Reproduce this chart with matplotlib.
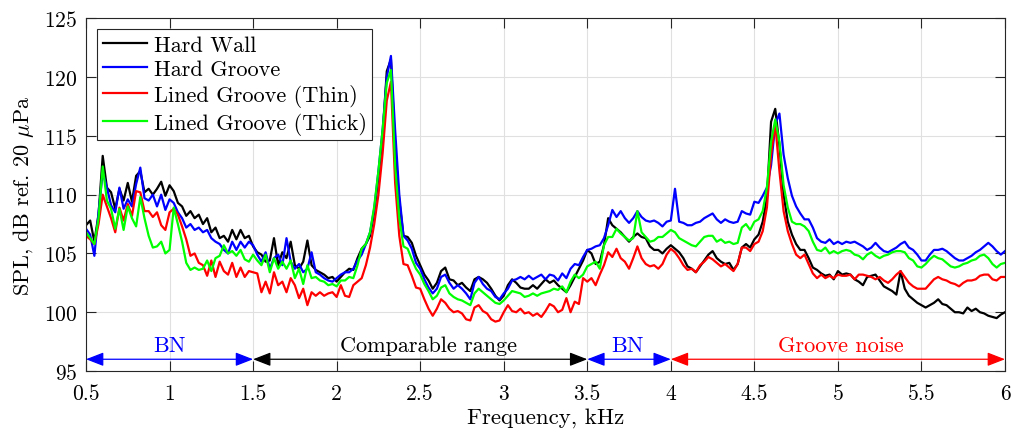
import numpy as np
import matplotlib
matplotlib.use("Agg")
import matplotlib.pyplot as plt

plt.rcParams["font.family"] = ["cmr10", "DejaVu Serif"]
plt.rcParams["mathtext.fontset"] = "cm"
plt.rcParams["axes.formatter.use_mathtext"] = True

# frequency grid, kHz (0.5 ... 6.0 in 0.025 steps)
freq = np.round(np.arange(0.5, 6.0001, 0.025), 3)

# SPL, dB ref. 20 uPa
hard_wall = [
    107.4, 107.8, 106.0, 108.3, 113.3, 110.6, 110.2, 108.8, 110.5, 109.5,
    111.0, 109.4, 111.6, 112.0, 110.2, 110.5, 110.0, 110.5, 111.1, 109.9,
    110.8, 110.3, 109.3, 109.0, 108.2, 108.6, 108.0, 108.3, 107.5, 108.0,
    106.8, 107.2, 106.3, 106.5, 106.0, 107.0, 106.2, 107.0, 106.3, 106.5,
    105.6, 105.1, 104.9, 104.3, 104.4, 106.3, 104.0, 105.1, 104.6, 106.0,
    104.0, 103.7, 104.3, 106.1, 104.0, 103.6, 103.4, 103.2, 102.9, 103.0,
    102.6, 103.0, 103.4, 103.7, 103.6, 104.6, 105.4, 105.8, 106.5, 108.5,
    111.5, 115.0, 120.5, 121.5, 114.0, 109.5, 106.5, 106.4, 105.9, 104.8,
    104.0, 103.2, 102.7, 102.0, 102.5, 103.5, 103.8, 102.8, 102.7, 102.3,
    102.5, 102.1, 101.8, 102.8, 103.0, 102.8, 102.5, 102.0, 101.4, 101.0,
    101.4, 102.3, 102.8, 102.5, 102.1, 102.0, 102.0, 102.3, 102.0, 102.4,
    102.8, 102.5, 102.7, 102.3, 102.0, 101.7, 102.3, 103.0, 103.7, 104.4,
    105.3, 105.0, 104.1, 104.3, 105.7, 108.0, 107.4, 107.1, 106.8, 106.4,
    106.0, 106.4, 106.7, 106.4, 106.3, 105.6, 105.3, 105.3, 105.0, 105.4,
    105.7, 105.4, 105.1, 104.6, 103.9, 103.7, 103.4, 103.9, 104.4, 104.9,
    105.2, 104.6, 104.3, 104.1, 104.2, 103.6, 104.1, 105.5, 105.8, 105.5,
    106.2, 106.6, 107.7, 109.7, 116.2, 117.3, 114.2, 110.0, 107.7, 106.6,
    105.8, 105.3, 105.3, 104.6, 103.8, 103.6, 103.3, 103.1, 103.2, 102.8,
    103.5, 103.2, 103.3, 103.2, 102.8, 102.6, 102.3, 103.0, 103.1, 103.2,
    102.7, 102.2, 102.0, 101.8, 101.5, 103.5, 102.0, 101.4, 101.1, 100.8,
    100.6, 100.4, 100.6, 100.8, 101.1, 100.7, 100.6, 100.3, 100.0, 100.0,
    99.9, 100.4, 100.1, 100.3, 100.0, 99.9, 99.7, 99.6, 99.5, 99.8,
    100.0]

hard_groove = [
    107.1, 106.6, 104.8, 108.5, 111.9, 110.6, 109.1, 108.5, 110.6, 108.8,
    109.6, 109.0, 110.9, 112.3, 109.7, 109.5, 110.0, 109.0, 110.0, 108.7,
    109.6, 109.3, 108.5, 108.0, 107.2, 107.5, 107.0, 107.2, 106.8, 107.0,
    106.3, 106.0, 105.8, 105.3, 105.0, 106.0, 105.3, 106.0, 105.5, 106.0,
    105.7, 104.9, 104.3, 105.1, 103.7, 104.6, 104.9, 104.0, 106.3, 104.3,
    103.7, 104.1, 103.4, 103.7, 105.1, 103.4, 103.2, 102.9, 102.7, 102.6,
    102.9, 103.2, 103.4, 103.4, 103.7, 104.4, 104.9, 105.8, 106.8, 108.8,
    112.0, 115.5, 120.0, 121.8, 115.5, 110.0, 106.5, 106.1, 105.4, 104.2,
    103.7, 102.8, 102.1, 101.6, 102.0, 103.0, 103.2, 102.5, 102.0, 102.3,
    102.0, 101.6, 101.1, 102.5, 103.0, 102.4, 102.0, 101.8, 101.3, 101.1,
    101.6, 102.0, 102.7, 102.8, 103.0, 102.8, 103.1, 102.8, 103.0, 103.2,
    102.8, 103.2, 103.1, 102.7, 103.3, 102.9, 103.7, 104.1, 104.0, 104.7,
    105.3, 105.4, 105.6, 105.7, 106.3, 107.4, 108.7, 108.1, 108.6, 108.0,
    107.6, 108.0, 108.6, 108.1, 107.8, 107.7, 107.8, 107.6, 107.3, 107.7,
    107.8, 110.5, 107.7, 107.6, 107.4, 107.4, 107.6, 107.7, 108.0, 108.2,
    108.4, 107.9, 107.6, 107.9, 107.7, 107.6, 107.7, 108.6, 108.4, 108.3,
    109.4, 109.3, 109.9, 110.6, 112.5, 116.0, 116.9, 113.4, 111.4, 109.9,
    109.0, 108.4, 107.9, 107.9, 107.2, 106.3, 106.0, 105.9, 106.2, 105.8,
    106.0, 105.8, 106.0, 105.9, 106.0, 105.8, 105.6, 105.3, 105.5, 105.9,
    105.5, 105.2, 105.1, 105.3, 105.5, 105.8, 106.0, 105.5, 105.3, 104.9,
    104.4, 104.4, 104.9, 105.3, 105.3, 105.4, 105.2, 104.9, 104.6, 104.4,
    104.4, 104.6, 104.8, 105.1, 105.3, 105.6, 105.9, 105.6, 105.2, 104.9,
    105.2]

lined_thin = [
    106.5, 106.2, 105.8, 107.5, 110.0, 109.0, 108.0, 106.8, 108.9, 107.8,
    109.2, 108.2, 110.3, 110.2, 108.6, 108.6, 108.1, 108.5, 107.4, 107.0,
    108.5, 108.8, 108.3, 107.3, 106.2, 104.8, 105.0, 104.2, 104.0, 103.1,
    104.4, 103.0, 104.3, 103.5, 103.2, 104.2, 103.0, 103.8, 103.0, 103.5,
    103.4, 103.3, 101.7, 102.6, 101.6, 103.4, 102.3, 102.6, 101.7, 102.9,
    102.3, 101.2, 102.0, 100.6, 101.7, 101.4, 101.7, 101.4, 101.6, 101.7,
    101.3, 102.3, 101.4, 101.3, 102.3, 102.6, 102.9, 104.0, 105.5, 107.5,
    110.0, 113.5, 118.0, 119.6, 111.0, 106.5, 104.1, 104.0, 103.1, 102.1,
    102.0, 101.1, 100.3, 99.7, 100.3, 101.1, 100.8, 100.3, 100.0, 100.1,
    99.9, 99.4, 99.3, 100.4, 100.6, 100.1, 99.9, 99.4, 99.2, 99.3,
    100.0, 100.6, 100.1, 100.0, 100.3, 99.9, 100.0, 99.7, 99.9, 99.6,
    100.1, 100.7, 100.5, 100.0, 100.2, 101.2, 100.0, 100.9, 100.7, 102.9,
    102.6, 102.9, 102.3, 103.2, 104.0, 105.1, 104.7, 105.4, 104.6, 104.3,
    103.7, 104.6, 105.6, 104.6, 104.1, 103.9, 104.0, 103.7, 104.1, 104.9,
    105.4, 105.1, 104.6, 104.0, 103.6, 103.7, 103.4, 104.0, 104.3, 104.7,
    104.5, 104.2, 103.9, 104.1, 103.8, 103.5, 104.1, 105.5, 105.5, 105.2,
    105.8, 106.0, 106.9, 108.9, 113.4, 116.0, 112.0, 108.6, 106.9, 105.8,
    104.9, 104.6, 104.9, 104.1, 103.3, 102.9, 103.2, 102.9, 103.1, 102.9,
    103.2, 103.1, 103.1, 103.2, 102.8, 103.2, 103.2, 103.1, 103.0, 102.8,
    103.0, 102.7, 102.5, 102.8, 103.2, 103.5, 103.0, 102.5, 102.2, 102.0,
    102.0, 102.0, 102.4, 102.8, 103.0, 102.8, 102.7, 102.5, 102.4, 102.2,
    102.5, 102.7, 102.7, 102.8, 103.1, 103.2, 103.2, 102.8, 102.7, 103.0,
    103.0]

lined_thick = [
    106.8, 106.3, 105.8, 108.0, 112.4, 109.5, 108.8, 107.1, 108.8, 107.0,
    109.0, 108.0, 107.3, 109.8, 108.0, 106.5, 105.5, 105.6, 106.0, 105.0,
    105.3, 108.9, 107.5, 106.0, 104.2, 103.6, 103.8, 103.6, 103.7, 104.4,
    103.5, 104.6, 104.8, 105.7, 105.0, 105.2, 104.8, 105.3, 104.5, 104.3,
    104.9, 104.4, 104.0, 104.9, 103.4, 104.6, 103.7, 104.3, 103.7, 104.4,
    102.9, 103.7, 102.4, 104.0, 102.9, 103.0, 102.7, 102.6, 102.3, 102.4,
    102.2, 102.7, 102.7, 103.0, 102.9, 104.0, 105.4, 105.8, 106.8, 109.0,
    112.0, 115.5, 119.5, 120.6, 112.5, 108.0, 105.6, 105.4, 104.5, 103.7,
    103.2, 102.4, 101.8, 101.1, 101.4, 102.1, 102.3, 101.6, 101.3, 101.1,
    101.0, 100.8, 100.6, 101.6, 102.0, 101.7, 101.4, 101.1, 100.8, 100.7,
    101.0, 101.4, 101.8, 101.7, 101.6, 101.3, 101.4, 101.6, 101.4, 101.6,
    101.7, 101.8, 102.0, 101.9, 102.2, 101.7, 102.6, 103.2, 102.9, 103.2,
    103.9, 104.1, 104.3, 103.7, 105.7, 106.4, 106.4, 107.1, 106.7, 106.4,
    106.1, 106.3, 108.6, 106.8, 106.4, 106.0, 106.1, 106.4, 106.4, 106.7,
    107.0, 106.8, 106.3, 106.1, 105.9, 105.7, 105.6, 106.0, 106.4, 106.5,
    106.5, 106.0, 106.2, 105.9, 106.0, 105.8, 105.9, 107.2, 107.5, 107.0,
    107.7, 107.9, 108.6, 110.6, 114.5, 116.4, 114.5, 110.8, 108.9, 107.7,
    107.5, 107.5, 107.3, 106.9, 106.0, 105.3, 105.2, 105.5, 105.0, 105.2,
    105.0, 105.2, 105.3, 105.2, 104.9, 104.8, 104.5, 104.9, 105.1, 104.8,
    104.6, 104.8, 104.9, 105.1, 105.2, 105.2, 105.1, 104.6, 104.4, 103.9,
    103.8, 104.1, 104.5, 104.8, 104.6, 104.5, 104.2, 103.9, 103.8, 103.9,
    104.1, 104.2, 104.4, 104.5, 104.8, 104.9, 104.6, 104.1, 103.8, 104.1,
    104.2]

series = [("Hard Wall", hard_wall, "black"),
          ("Hard Groove", hard_groove, "blue"),
          ("Lined Groove (Thin)", lined_thin, "red"),
          ("Lined Groove (Thick)", lined_thick, (0, 1, 0))]

# frequency bands marked along the bottom
bands = [(0.5, 1.5, "BN", "blue", 1.0),
         (1.5, 3.5, "Comparable range", "black", 2.55),
         (3.5, 4.0, "BN", "blue", 3.74),
         (4.0, 6.0, "Groove noise", "red", 5.02)]

fig = plt.figure(figsize=(10.13, 4.35), dpi=100)
ax = fig.add_axes([0.0849, 0.1448, 0.9072, 0.8108])

for name, vals, col in series:
    ax.plot(freq, vals, color=col, lw=1.6, label=name)

for f0, f1, txt, col, fx in bands:
    ax.annotate("", xy=(f1, 96), xytext=(f0, 96),
                arrowprops=dict(arrowstyle="<|-|>,head_length=0.9,head_width=0.35",
                                color=col, lw=0.9, shrinkA=0, shrinkB=0,
                                mutation_scale=12))
    ax.text(fx, 96.35, txt, color=col, fontsize=16, ha="center", va="bottom")

ax.set_xlim(0.5, 6)
ax.set_ylim(95, 125)
ax.set_xticks(np.arange(0.5, 6.01, 0.5))
ax.set_xticklabels(["0.5", "1", "1.5", "2", "2.5", "3", "3.5", "4",
                    "4.5", "5", "5.5", "6"])
ax.set_yticks(np.arange(95, 126, 5))
ax.tick_params(direction="in", top=True, right=True, labelsize=15.5,
               length=7, width=0.8, color="0.15")
ax.tick_params(axis="x", pad=9)
ax.tick_params(axis="y", pad=6)
ax.grid(True, color="0.88", lw=0.8)
for sp in ax.spines.values():
    sp.set_color("0.15")
    sp.set_linewidth(0.8)

ax.set_xlabel("Frequency, kHz", fontsize=16.5, labelpad=3)
ax.set_ylabel(r"SPL, dB ref. 20 $\mu$Pa", fontsize=16, labelpad=6)

leg = ax.legend(loc="upper left", fontsize=16, handlelength=2.0,
                handletextpad=0.3, labelspacing=0.22, borderpad=0.25,
                borderaxespad=0.5, fancybox=False, framealpha=1)
leg.get_frame().set_edgecolor("0.15")
leg.get_frame().set_linewidth(0.8)

fig.savefig("out.png", dpi=100)
